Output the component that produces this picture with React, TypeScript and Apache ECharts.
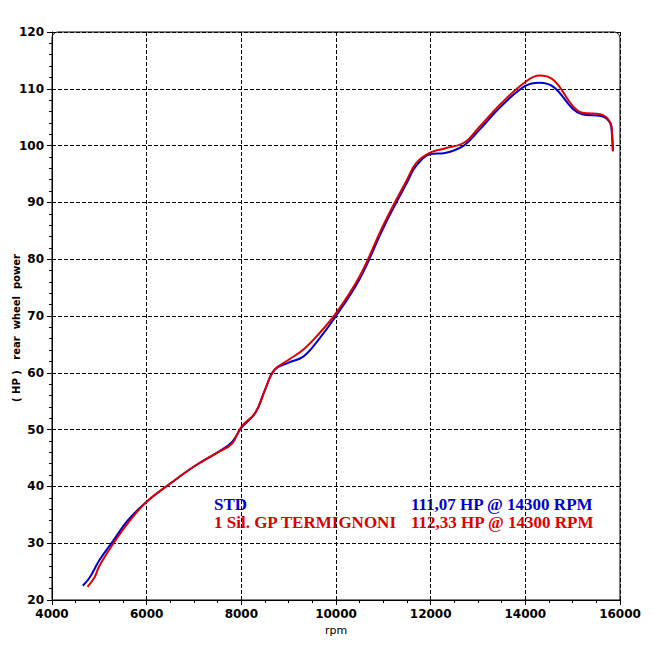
import React, { useEffect, useRef } from 'react';
import * as echarts from 'echarts';

const stdRpm = [4650, 4800, 5000, 5300, 5600, 6000, 6500, 7000, 7500, 7800, 8000, 8300, 8500, 8700, 9000, 9300, 9600, 10000, 10500, 11000, 11500, 11700, 12000, 12300, 12700, 13000, 13500, 14000, 14300, 14600, 15000, 15200, 15600, 15800, 15830, 15850];
const stdHp = [22.5, 24, 27, 30.5, 34, 37.3, 40.5, 43.5, 46, 47.8, 50.3, 53, 57, 60.5, 61.8, 62.8, 65.5, 70, 76.5, 85.5, 93.5, 96.5, 98.5, 98.7, 100, 102.5, 107, 110.5, 111.07, 110.3, 106.5, 105.5, 105.2, 103.8, 102, 99];
const gpRpm = [4750, 4900, 5000, 5300, 5600, 6000, 6500, 7000, 7500, 7800, 8000, 8300, 8500, 8700, 9000, 9300, 9600, 10000, 10500, 11000, 11500, 11700, 12000, 12300, 12700, 13000, 13500, 14000, 14300, 14600, 15000, 15200, 15600, 15800, 15830, 15850];
const gpHp = [22.3, 24, 26, 30, 33.5, 37.3, 40.5, 43.5, 46, 47.5, 50.5, 53, 57, 60.5, 62.3, 64, 66.5, 70.5, 77, 86, 94, 97, 98.8, 99.5, 100.5, 103, 107.5, 111.2, 112.33, 111.5, 107, 105.8, 105.5, 104, 102.5, 99];

const legendLines = [
  { name: 'STD', info: '111,07 HP @ 14300 RPM', color: '#0000cc' },
  { name: '1 Sil. GP TERMIGNONI', info: '112,33 HP @ 14300 RPM', color: '#dd0000' },
];

const App: React.FC = () => {
  const ref = useRef<HTMLDivElement>(null);

  useEffect(() => {
    if (!ref.current) return;
    const chart = echarts.init(ref.current, undefined, { renderer: 'svg' });
    const tick = { color: '#000', fontFamily: 'DejaVu Sans', fontWeight: 'bold' as const, fontSize: 12, formatter: (v: number) => String(v) };
    chart.setOption({
      animation: false,
      backgroundColor: '#fff',
      grid: { left: 44, right: 24, top: 24, bottom: 44, outerBoundsMode: 'none' },
      xAxis: {
        type: 'value', min: 4000, max: 16000, interval: 2000,
        name: 'rpm', nameLocation: 'middle', nameGap: 22,
        nameTextStyle: { color: '#000', fontFamily: 'DejaVu Sans', fontSize: 11 },
        axisLine: { lineStyle: { color: '#000' } },
        axisTick: { lineStyle: { color: '#000' } },
        minorTick: { show: true, splitNumber: 4, lineStyle: { color: '#000' } },
        axisLabel: tick,
        splitLine: { lineStyle: { color: '#000', type: 'dashed' } },
      },
      yAxis: {
        type: 'value', min: 20, max: 120, interval: 10,
        axisLine: { show: true, lineStyle: { color: '#000' } },
        axisTick: { show: true, lineStyle: { color: '#000' } },
        minorTick: { show: true, splitNumber: 5, lineStyle: { color: '#000' } },
        axisLabel: tick,
        splitLine: { lineStyle: { color: '#000', type: 'dashed' } },
      },
      graphic: [
        { type: 'rect', shape: { x: 44, y: 24, width: 568, height: 568, r: [6, 6, 0, 0] }, style: { fill: 'none', stroke: '#000' }, silent: true },
        {
          type: 'text', x: 8, y: 320, rotation: Math.PI / 2,
          style: { text: '( HP )   rear  wheel  power', fill: '#000', font: 'bold 10px "DejaVu Sans"', align: 'center', verticalAlign: 'middle' },
        },
        ...legendLines.flatMap((l, i) => [
          { type: 'text', x: 206, y: 488 + i * 18, style: { text: l.name, fill: l.color, font: 'bold 17px "Liberation Serif"' } },
          { type: 'text', x: 403, y: 488 + i * 18, style: { text: l.info, fill: l.color, font: 'bold 17px "Liberation Serif"' } },
        ]),
      ],
      series: [
        { type: 'line', smooth: 0.4, symbol: 'none', data: stdRpm.map((r, i) => [r, stdHp[i]]), lineStyle: { color: '#0000cc', width: 2 } },
        { type: 'line', smooth: 0.4, symbol: 'none', data: gpRpm.map((r, i) => [r, gpHp[i]]), lineStyle: { color: '#dd0000', width: 2 } },
      ],
    });
    return () => chart.dispose();
  }, []);

  return <div ref={ref} style={{ width: 636, height: 636 }} />;
};

export default App;
